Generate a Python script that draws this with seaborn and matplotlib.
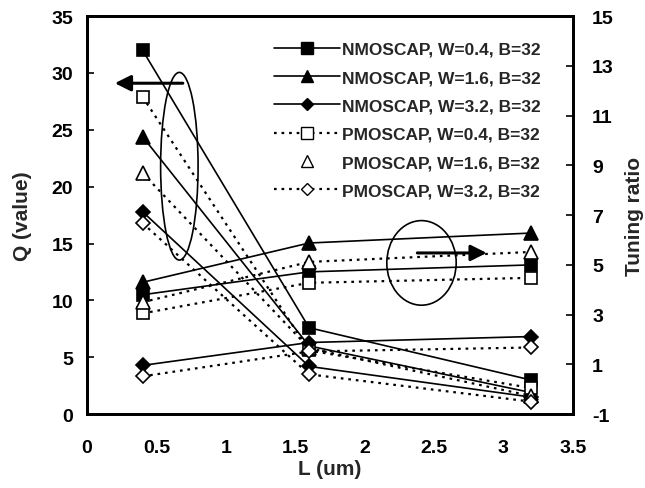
import matplotlib
matplotlib.use("Agg")
import matplotlib.pyplot as plt
import seaborn as sns
import numpy as np
import pandas as pd
from matplotlib.lines import Line2D
from matplotlib.patches import Ellipse

sns.set_theme(style="white")
plt.rcParams['font.family'] = ['Liberation Sans', 'DejaVu Sans']
plt.rcParams['font.weight'] = 'bold'
plt.rcParams['axes.unicode_minus'] = False

L = [0.4, 1.6, 3.2]
labels = ["NMOSCAP, W=0.4, B=32", "NMOSCAP, W=1.6, B=32", "NMOSCAP, W=3.2, B=32",
          "PMOSCAP, W=0.4, B=32", "PMOSCAP, W=1.6, B=32", "PMOSCAP, W=3.2, B=32"]
q_n04 = [32.0, 7.6, 3.0]
q_n16 = [24.4, 6.0, 1.9]
q_n32 = [17.8, 4.2, 1.5]
q_p04 = [27.9, 5.6, 2.3]
q_p16 = [21.2, 5.8, 1.6]
q_p32 = [16.8, 3.5, 1.1]
tr_n04 = [3.8, 4.72, 5.0]
tr_n16 = [4.3, 5.88, 6.28]
tr_n32 = [0.96, 1.88, 2.12]
tr_p04 = [3.05, 4.28, 4.48]
tr_p16 = [3.5, 5.12, 5.52]
tr_p32 = [0.52, 1.52, 1.68]

q_series = [q_n04, q_n16, q_n32, q_p04, q_p16, q_p32]
tr_series = [tr_n04, tr_n16, tr_n32, tr_p04, tr_p16, tr_p32]

x_ticks = [0, 0.5, 1, 1.5, 2, 2.5, 3, 3.5]
x_ticklabels = ["0", "0.5", "1", "1.5", "2", "2.5", "3", "3.5"]
q_ticks = [0, 5, 10, 15, 20, 25, 30, 35]
tr_ticks = [-1, 1, 3, 5, 7, 9, 11, 13, 15]

markers = ['s', '^', 'D', 's', '^', 'D']
msizes = [9, 10, 7, 9, 10, 7]
filled = [True, True, True, False, False, False]
dots = (1.2, 2.2)

fig = plt.figure(figsize=(6.45, 4.89), dpi=100)
ax = fig.add_axes([0.135, 0.151, 0.753, 0.814])
ax2 = ax.twinx()

def draw(axis, vals, i):
    df = pd.DataFrame({"L": L, "v": vals})
    kw = dict(color='black', linewidth=1.2, marker=markers[i], markersize=msizes[i],
              markeredgecolor='black', markeredgewidth=1.2,
              markerfacecolor='black' if filled[i] else 'white')
    if not filled[i]:
        kw['dashes'] = dots
        kw['linewidth'] = 1.6
    sns.lineplot(data=df, x="L", y="v", ax=axis, legend=False, **kw)

for i in range(6):
    draw(ax, q_series[i], i)
    draw(ax2, tr_series[i], i)

ax.set_xlim(0, 3.5)
ax.set_ylim(0, 35)
ax2.set_ylim(-1, 15)
ax.set_xticks(x_ticks)
ax.set_xticklabels(x_ticklabels)
ax.set_yticks(q_ticks)
ax2.set_yticks(tr_ticks)
for a in (ax, ax2):
    a.tick_params(direction='in', length=5, width=1.2, labelsize=14, colors='black', pad=10)
    for s in a.spines.values():
        s.set_linewidth(2)
        s.set_color('black')
    for t in a.get_xticklabels() + a.get_yticklabels():
        t.set_fontweight('bold')
ax.tick_params(axis='x', pad=18)
ax2.tick_params(axis='y', pad=14)
ax.set_xlabel("L (um)", fontsize=15, fontweight='bold', labelpad=2)
ax.set_ylabel("Q (value)", fontsize=15, fontweight='bold', labelpad=14)
ax2.set_ylabel("Tuning ratio", fontsize=15, fontweight='bold', labelpad=8)
ax.grid(False); ax2.grid(False)

# annotations
ax.add_patch(Ellipse((0.665, 21.8), 0.27, 16.5, fill=False, edgecolor='black', linewidth=1.2))
ax.annotate("", xy=(0.18, 29.1), xytext=(0.71, 29.1),
            arrowprops=dict(arrowstyle='-|>', color='black', linewidth=2.2, mutation_scale=24))
ax2.add_patch(Ellipse((2.41, 5.08), 0.5, 3.4, fill=False, edgecolor='black', linewidth=1.2))
ax2.annotate("", xy=(2.9, 5.48), xytext=(2.36, 5.48),
             arrowprops=dict(arrowstyle='-|>', color='black', linewidth=2.2, mutation_scale=24))

handles = []
for i in range(6):
    if i == 4:
        h = Line2D([], [], color='black', linestyle='none', marker=markers[i], markersize=msizes[i] - 1,
                   markerfacecolor='white', markeredgecolor='black')
    else:
        h = Line2D([], [], color='black', linewidth=1.2 if filled[i] else 1.6,
                   linestyle='-' if filled[i] else (0, dots), marker=markers[i], markersize=msizes[i] - 1,
                   markerfacecolor='black' if filled[i] else 'white', markeredgecolor='black')
    handles.append(h)
leg = ax2.legend(handles, labels, loc='upper right', bbox_to_anchor=(0.955, 0.962), frameon=False,
                 prop={'weight': 'bold', 'size': 12.5}, handlelength=3.8, handletextpad=0.1,
                 labelspacing=0.76, borderaxespad=0.2)

fig.savefig("out.png", dpi=100)
